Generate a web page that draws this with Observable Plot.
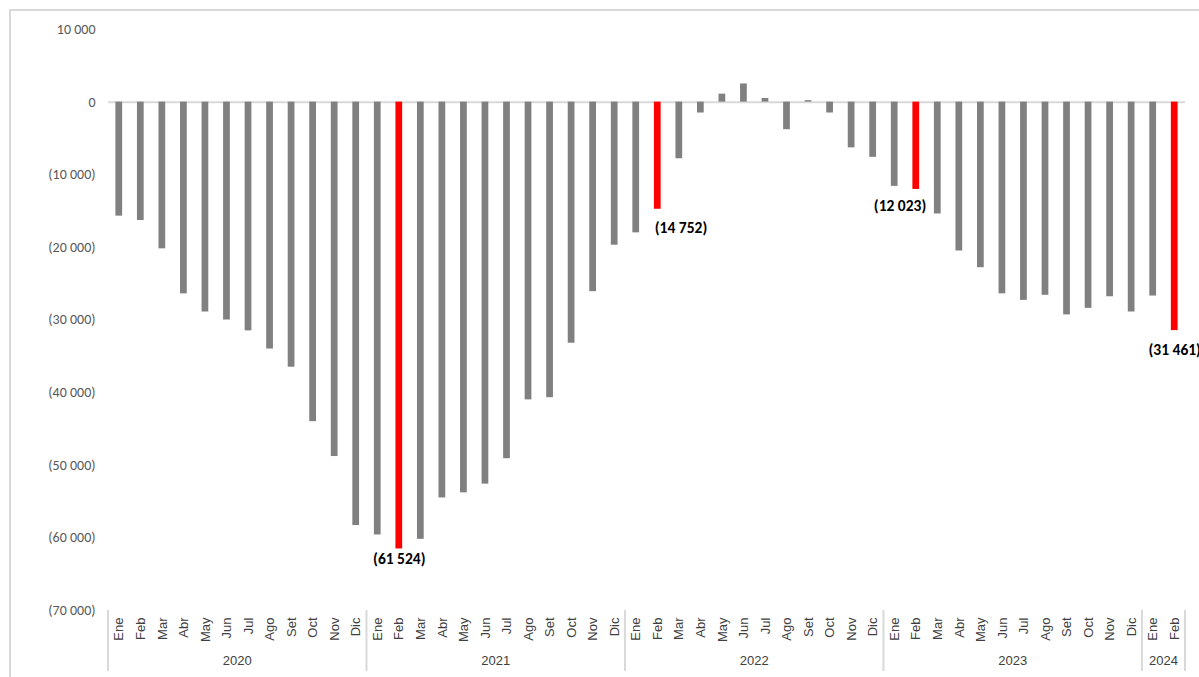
<!DOCTYPE html>
<html><head><meta charset="utf-8">
<script src="https://cdn.jsdelivr.net/npm/d3@7"></script>
<script src="https://cdn.jsdelivr.net/npm/@observablehq/plot@0.6"></script>
<style>
body{margin:0;background:#fff;overflow:hidden;}
#frame{position:absolute;left:9px;top:9px;width:1200px;height:680px;border:2px solid #d9d9d9;box-sizing:border-box;}
#chart{position:absolute;left:0;top:0;}
</style></head><body><div id="frame"></div><div id="chart"></div>
<script>
const years = ["2020", "2021", "2022", "2023", "2024"];
const monthNames = ["Ene","Feb","Mar","Abr","May","Jun","Jul","Ago","Set","Oct","Nov","Dic"];
const values2020 = [-15700,-16300,-20200,-26400,-28900,-30000,-31500,-34000,-36500,-44000,-48800,-58300];
const values2021 = [-59600,-61524,-60200,-54500,-53800,-52600,-49100,-41000,-40700,-33200,-26100,-19700];
const values2022 = [-18000,-14752,-7800,-1500,1100,2500,500,-3800,200,-1500,-6300,-7600];
const values2023 = [-11600,-12023,-15400,-20500,-22800,-26400,-27300,-26600,-29300,-28400,-26800,-28900];
const values2024 = [-26700,-31461];
const highlighted = ["2021-Feb","2022-Feb","2023-Feb","2024-Feb"];
const yTicks = [10000,0,-10000,-20000,-30000,-40000,-50000,-60000,-70000];

const seriesByYear = [values2020, values2021, values2022, values2023, values2024];
const data = [];
years.forEach((yr, yi) => {
  seriesByYear[yi].forEach((v, mi) => {
    const key = `${yr}-${monthNames[mi]}`;
    data.push({key, year: yr, month: monthNames[mi], value: v, hl: highlighted.includes(key)});
  });
});
const keys = data.map(d => d.key);

const fmt = v => {
  const s = d3.format(",")(Math.abs(v)).replace(/,/g, " ");
  return v < 0 ? `(${s})` : s;
};

const narrow = "'Liberation Sans Narrow','Arial Narrow','Liberation Sans',Arial,sans-serif";
const labelStyle = {x: "key", y: "value", text: d => fmt(d.value),
  fontSize: 15.5, fontWeight: "bold", fill: "#000", fontFamily: "Carlito, Lato, sans-serif"};
const pick = k => data.filter(d => d.key === k);

const chart = Plot.plot({
  width: 1199, height: 677,
  marginLeft: 108, marginRight: 14, marginTop: 29, marginBottom: 67,
  style: {background: "transparent", overflow: "visible"},
  x: {type: "band", domain: keys, padding: 0, round: false, axis: null},
  y: {domain: [-70000, 10000], axis: null},
  marks: [
    Plot.ruleY([0], {stroke: "#d9d9d9", strokeWidth: 2}),
    Plot.barY(data, {x: "key", y: "value", fill: d => d.hl ? "#ff0000" : "#808080", insetLeft: 7.4, insetRight: 7.4}),
    Plot.text(pick("2021-Feb"), {...labelStyle, dy: 10}),
    Plot.text(pick("2024-Feb"), {...labelStyle, dy: 19}),
    Plot.text(pick("2022-Feb"), {...labelStyle, dy: 19, textAnchor: "start", dx: -3}),
    Plot.text(pick("2023-Feb"), {...labelStyle, dy: 17, textAnchor: "end", dx: 10}),
    Plot.axisY({ticks: yTicks, tickSize: 0, tickPadding: 13, tickFormat: fmt, label: null,
      fontSize: 14, fill: "#595959", fontFamily: "Carlito, Lato, sans-serif"}),
    Plot.axisX({tickSize: 0, tickRotate: -90, tickPadding: 7, tickFormat: k => k.split("-")[1], label: null,
      fontSize: 13, fill: "#404040", fontFamily: narrow})
  ]
});

const svg = d3.select(chart);
const xs = chart.scale("x");
const ys = chart.scale("y");
const bw = xs.bandwidth;
const yTop = ys.apply(-70000);
const g = svg.append("g");
const bounds = [];
years.forEach(yr => {
  const ks = keys.filter(k => k.startsWith(yr));
  const x0 = xs.apply(ks[0]);
  const x1 = xs.apply(ks[ks.length - 1]) + bw;
  bounds.push(x0);
  g.append("text").attr("x", (x0 + x1) / 2).attr("y", 662).attr("text-anchor", "middle")
    .attr("dominant-baseline", "middle").attr("font-size", 13).attr("fill", "#404040")
    .attr("font-family", narrow).text(yr);
});
bounds.push(xs.apply(keys[keys.length - 1]) + bw);
bounds.forEach(x => {
  g.append("line").attr("x1", x).attr("x2", x).attr("y1", yTop).attr("y2", 671)
    .attr("stroke", "#d9d9d9").attr("stroke-width", 2);
});
document.getElementById("chart").appendChild(chart);
</script>
</body></html>
